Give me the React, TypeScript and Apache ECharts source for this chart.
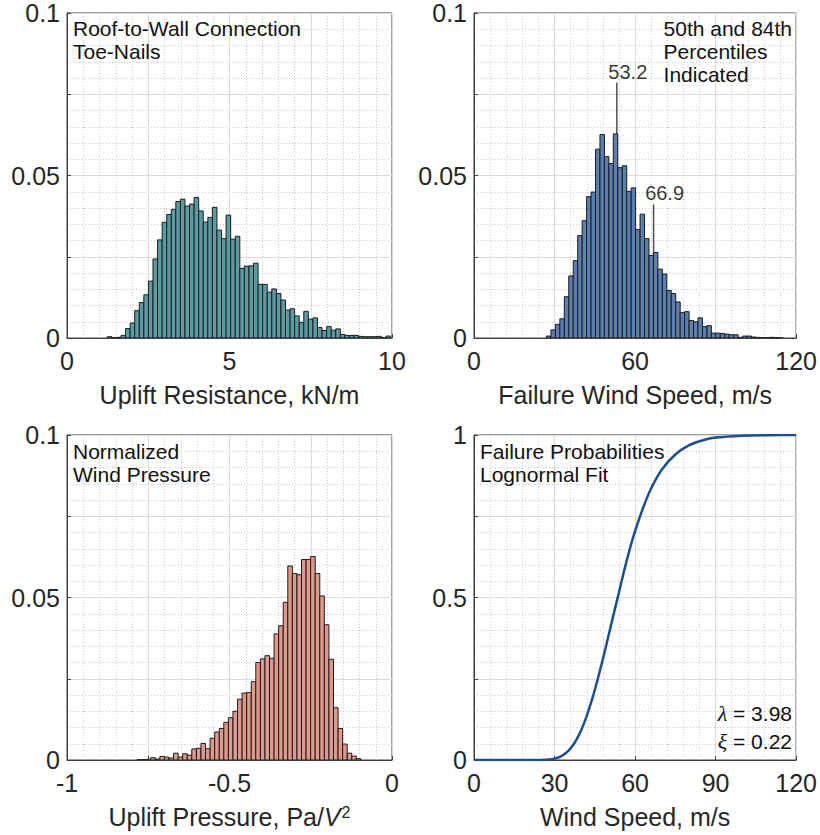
import React, { useEffect, useRef } from "react";
import * as echarts from "echarts";

// ---------- DATA ----------
// Top-left: uplift resistance histogram (kN/m), probability per bin
const resistBinStart = 1.24;
const resistBinWidth = 0.1406;
const resistProb = [
  0.0004, 0.0001, 0.0002, 0.0008, 0.0029, 0.0046, 0.0084, 0.0109, 0.0133, 0.0175,
  0.0243, 0.0302, 0.0356, 0.038, 0.0396, 0.042, 0.0427, 0.0406, 0.0412, 0.0432,
  0.0391, 0.0357, 0.0371, 0.0402, 0.0332, 0.0306, 0.0378, 0.0304, 0.0313, 0.0214,
  0.0221, 0.0222, 0.023, 0.0165, 0.0165, 0.0141, 0.0151, 0.0137, 0.0117, 0.0086,
  0.009, 0.0068, 0.0048, 0.0082, 0.0058, 0.0062, 0.0032, 0.0023, 0.0035, 0.0024,
  0.0028, 0.0011, 0.0008, 0.0008, 0.0008, 0.0005, 0.0004, 0.0004, 0.0004, 0.0005,
  0.0001, 0.0006,
];

// Top-right: failure wind speed histogram (m/s)
const speedBinStart = 27.0;
const speedBinWidth = 1.66;
const speedProb = [
  0.0006, 0.0025, 0.0042, 0.0059, 0.0127, 0.0191, 0.0238, 0.0315, 0.0361, 0.0435,
  0.0449, 0.0581, 0.0626, 0.0558, 0.0537, 0.0628, 0.0524, 0.053, 0.0451, 0.0462,
  0.0334, 0.0381, 0.0306, 0.0254, 0.0263, 0.0212, 0.0197, 0.0146, 0.0137, 0.0111,
  0.0078, 0.0081, 0.0054, 0.005, 0.0062, 0.0035, 0.0038, 0.0015, 0.0015, 0.0014,
  0.0012, 0.001, 0.001, 0.0002, 0.0006, 0.0006, 0.0003, 0.0002, 0.0001, 0.0001,
  0.0002, 0.0001, 0.0001,
];
const percentileValues = [53.2, 66.9];
const percentileLabels = ["53.2", "66.9"];
const percentileLineTops = [0.0786, 0.0411];

// Bottom-left: normalized uplift pressure histogram (Pa/V^2)
const pressBinStart = -0.7846;
const pressBinWidth = 0.01406;
const pressProb = [
  0.0001, 0.0001, 0.0002, 0.0007, 0.0003, 0.0011, 0.0009, 0.0006, 0.0021, 0.0009,
  0.0019, 0.0015, 0.0034, 0.0036, 0.0051, 0.0035, 0.0067, 0.0086, 0.0097, 0.0116,
  0.013, 0.015, 0.0187, 0.0206, 0.0208, 0.0241, 0.03, 0.0311, 0.0321, 0.0313,
  0.0388, 0.0413, 0.0485, 0.0597, 0.0574, 0.057, 0.0617, 0.0617, 0.0626, 0.0574,
  0.0505, 0.0416, 0.031, 0.0161, 0.0097, 0.0049, 0.0021, 0.0012, 0.0004,
];

// Bottom-right: lognormal fragility curve
const fragSpeed = [0, 20, 25, 28, 30, 32, 34, 36, 38, 40, 42, 44, 46, 48, 50, 52, 54, 56, 58, 60, 63, 66, 70, 75, 80, 85, 90, 100, 110, 120];
const fragProb = [0, 0, 0.0002, 0.0016, 0.0043, 0.0097, 0.0197, 0.036, 0.06, 0.093, 0.136, 0.187, 0.246, 0.31, 0.379, 0.448, 0.516, 0.585, 0.648, 0.704, 0.776, 0.836, 0.894, 0.94, 0.968, 0.983, 0.992, 0.998, 0.9995, 1];
const fitLambda = "3.98";
const fitXi = "0.22";

// Tick labels
const tlXTicks = [0, 5, 10];
const trXTicks = [0, 60, 120];
const blXTicks = [-1, -0.5, 0];
const brXTicks = [0, 30, 60, 90, 120];
const histYTicks = [0, 0.05, 0.1];
const brYTicks = [0, 0.5, 1];

// ---------- STYLE ----------
const FONT = "'Liberation Sans', Arial, Helvetica, sans-serif";
const SERIF = "'Liberation Serif', 'DejaVu Serif', serif";
const TXT = "#262626";
const TICK_FS = 25;
const NAME_FS = 25;
const ANN_FS = 21;

const grids = [
  { left: 67, top: 13, width: 325, height: 325 },
  { left: 474, top: 13, width: 325, height: 325 },
  { left: 67, top: 435, width: 325, height: 325 },
  { left: 474, top: 435, width: 325, height: 325 },
];

function pickLabel(list: number[]) {
  return (v: number) => {
    const hit = list.find((l) => Math.abs(l - v) < 1e-9);
    return hit === undefined ? "" : String(hit);
  };
}

function axisCommon(labels: number[], margin: number) {
  return {
    axisLine: { show: true, onZero: false, lineStyle: { color: "#404040", width: 1 } },
    axisTick: { show: true, inside: true, length: 4, lineStyle: { color: "#404040" } },
    minorTick: { show: false, splitNumber: 5 },
    splitLine: { show: true, lineStyle: { color: "#dadada", width: 1, type: "solid" } },
    minorSplitLine: { show: true, lineStyle: { color: "#c8c8c8", width: 1, type: [1, 2] } },
    axisLabel: {
      show: true,
      margin,
      formatter: pickLabel(labels),
      fontFamily: FONT,
      fontSize: TICK_FS,
      color: TXT,
      showMinLabel: true,
      showMaxLabel: true,
    },
  };
}

function xAxis(gi: number, min: number, max: number, interval: number, labels: number[], name: string, rich?: any) {
  return {
    type: "value",
    gridIndex: gi,
    min,
    max,
    interval,
    name,
    nameLocation: "middle",
    nameGap: 44,
    nameTextStyle: { fontFamily: FONT, fontSize: NAME_FS, color: TXT, verticalAlign: "top", rich },
    ...axisCommon(labels, 10),
  };
}

function yAxis(gi: number, max: number, interval: number, labels: number[]) {
  return {
    type: "value",
    gridIndex: gi,
    min: 0,
    max,
    interval,
    ...axisCommon(labels, 7),
  };
}

function histSeries(gi: number, start: number, width: number, values: number[], fill: string) {
  return {
    type: "custom",
    xAxisIndex: gi,
    yAxisIndex: gi,
    z: 3,
    clip: true,
    encode: { x: [0, 1], y: 2 },
    data: values.map((v, i) => [start + i * width, start + (i + 1) * width, v]),
    renderItem: (_p: any, api: any) => {
      const a = api.coord([api.value(0), api.value(2)]);
      const b = api.coord([api.value(1), 0]);
      return {
        type: "rect",
        shape: { x: a[0], y: a[1], width: b[0] - a[0], height: b[1] - a[1] },
        style: { fill, stroke: "#1c1c1c", lineWidth: 1 },
      };
    },
  };
}

function buildOption() {
  const series: any[] = [
    histSeries(0, resistBinStart, resistBinWidth, resistProb, "#5b9ba3"),
    histSeries(1, speedBinStart, speedBinWidth, speedProb, "#5b7fb1"),
    histSeries(2, pressBinStart, pressBinWidth, pressProb, "#df988b"),
  ];
  percentileValues.forEach((x, i) => {
    series.push({
      type: "line",
      xAxisIndex: 1,
      yAxisIndex: 1,
      z: 2,
      symbol: "none",
      silent: true,
      data: [[x, 0], [x, percentileLineTops[i]]],
      lineStyle: { color: "#505050", width: 1.5 },
    });
  });
  series.push({
    type: "scatter",
    xAxisIndex: 1,
    yAxisIndex: 1,
    z: 5,
    symbolSize: 0,
    silent: true,
    data: percentileValues.map((x, i) => ({ value: [x, percentileLineTops[i]], name: percentileLabels[i] })),
    label: {
      show: true,
      position: "top",
      distance: 1,
      offset: [11, 0],
      formatter: "{b}",
      fontFamily: FONT,
      fontSize: 20,
      color: "#000",
    },
  });
  series.push({
    type: "line",
    xAxisIndex: 3,
    yAxisIndex: 3,
    z: 3,
    symbol: "none",
    smooth: 0.3,
    data: fragSpeed.map((x, i) => [x, fragProb[i]]),
    lineStyle: { color: "#1d4e8f", width: 2.5 },
  });

  const annStyle = (text: string, align: string) => ({
    text,
    fontFamily: FONT,
    fontSize: ANN_FS,
    lineHeight: 23,
    fill: "#111",
    align,
  });

  return {
    animation: false,
    backgroundColor: "#ffffff",
    grid: grids.map((g) => ({ ...g, show: true, borderColor: "#404040", borderWidth: 1, backgroundColor: "#fff", containLabel: false })),
    xAxis: [
      xAxis(0, 0, 10, 2.5, tlXTicks, "Uplift Resistance, kN/m"),
      xAxis(1, 0, 120, 30, trXTicks, "Failure Wind Speed, m/s"),
      xAxis(2, -1, 0, 0.25, blXTicks, "{a|Uplift Pressure, Pa/}{i|V}{s|2}", {
        a: { fontFamily: FONT, fontSize: NAME_FS, color: TXT },
        i: { fontFamily: FONT, fontSize: NAME_FS, color: TXT, fontStyle: "italic" },
        s: { fontFamily: FONT, fontSize: 16, color: TXT, verticalAlign: "top", padding: [0, 0, 10, 1] },
      }),
      xAxis(3, 0, 120, 30, brXTicks, "Wind Speed, m/s"),
    ],
    yAxis: [
      yAxis(0, 0.1, 0.025, histYTicks),
      yAxis(1, 0.1, 0.025, histYTicks),
      yAxis(2, 0.1, 0.025, histYTicks),
      yAxis(3, 1, 0.25, brYTicks),
    ],
    series,
    graphic: [
      { type: "text", left: 73, top: 17, z: 10, style: annStyle("Roof-to-Wall Connection\nToe-Nails", "left") },
      { type: "text", right: 28, top: 17, z: 10, style: annStyle("50th and 84th\nPercentiles\nIndicated", "right") },
      { type: "text", left: 73, top: 440, z: 10, style: annStyle("Normalized\nWind Pressure", "left") },
      { type: "text", left: 480, top: 440, z: 10, style: annStyle("Failure Probabilities\nLognormal Fit", "left") },
      {
        type: "text",
        right: 28,
        top: 702,
        z: 10,
        style: {
          text: "{g|λ}{t| = " + fitLambda + "}",
          align: "right",
          rich: {
            g: { fontFamily: SERIF, fontSize: 22, fontStyle: "italic", fill: "#111" },
            t: { fontFamily: FONT, fontSize: ANN_FS, fill: "#111" },
          },
        },
      },
      {
        type: "text",
        right: 28,
        top: 730,
        z: 10,
        style: {
          text: "{g|ξ}{t| = " + fitXi + "}",
          align: "right",
          rich: {
            g: { fontFamily: SERIF, fontSize: 22, fontStyle: "italic", fill: "#111" },
            t: { fontFamily: FONT, fontSize: ANN_FS, fill: "#111" },
          },
        },
      },
    ],
  };
}

export default function App() {
  const ref = useRef<HTMLDivElement>(null);
  useEffect(() => {
    document.body.style.margin = "0";
    const chart = echarts.init(ref.current as HTMLDivElement, null, { renderer: "svg" });
    chart.setOption(buildOption() as any);
    return () => chart.dispose();
  }, []);
  return <div ref={ref} style={{ width: 820, height: 835, background: "#fff" }} />;
}
